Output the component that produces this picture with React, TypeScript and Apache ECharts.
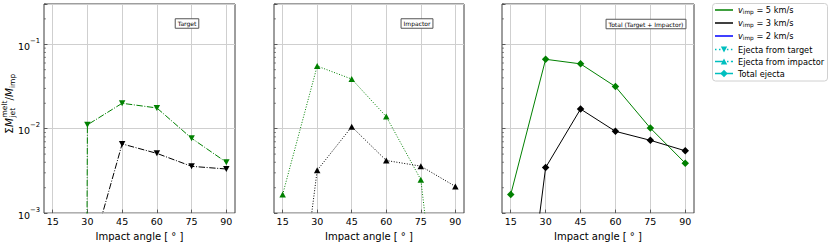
import React, { useEffect, useRef } from 'react';
import * as echarts from 'echarts';

// ---------- data ----------
const angles = [15, 30, 45, 60, 75, 90];
const xTicks = [15, 30, 45, 60, 75, 90];
const yMinorTicks = [0.002, 0.003, 0.004, 0.005, 0.006, 0.007, 0.008, 0.009, 0.02, 0.03, 0.04, 0.05, 0.06, 0.07, 0.08, 0.09, 0.2, 0.3];

// Ejecta from target (0 = no melt; clipped off the log axis)
const target5 = [0, 0.0111, 0.02, 0.0176, 0.0077, 0.004];
const target3 = [0, 0.00023, 0.0066, 0.0051, 0.00358, 0.00333];
// Ejecta from impactor
const impactor5 = [0.00166, 0.0552, 0.0387, 0.0139, 0.00249, 8e-7];
const impactor3 = [2e-6, 0.00321, 0.01054, 0.0042, 0.0036, 0.00207];
// Total ejecta
const total5 = [0.00166, 0.0664, 0.0586, 0.0315, 0.01016, 0.0039];
const total3 = [2e-6, 0.00346, 0.0171, 0.0093, 0.00728, 0.00547];

const panelTitles = ['Target', 'Impactor', 'Total (Target + Impactor)'];
const xLabel = 'Impact angle [ ° ]';
const legendVel = ['5', '3', '2'];
const legendEjecta = ['Ejecta from target', 'Ejecta from impactor', 'Total ejecta'];

// ---------- style ----------
const X_MIN = 11.25;
const X_MAX = 93.75;
const Y_MIN = 0.001;
const Y_MAX = 0.3;
const FONT = '"DejaVu Sans", sans-serif';
const GREEN = '#008000';
const BLACK = '#000000';
const BLUE = '#0000ff';
const CYAN = '#00bfbf';
const FRAME = '#3c3c3c';
const GRIDC = '#cfcfcf';
const DASHDOT = [6.4, 1.6, 1, 1.6];
const DOTTED = [1, 1.65];

const grids = [
  { left: 44, top: 4, width: 191, height: 214 },
  { left: 274, top: 4, width: 190, height: 214 },
  { left: 502, top: 4, width: 192, height: 214 },
];

function measure(text: string, size: number, italic = false) {
  const c = document.createElement('canvas').getContext('2d');
  if (!c) return text.length * size * 0.6;
  c.font = `${italic ? 'italic ' : ''}${size}px "DejaVu Sans"`;
  return c.measureText(text).width;
}

function txt(text: string, x: number, y: number, size: number, opts: any = {}) {
  return {
    type: 'text',
    silent: true,
    z: 100,
    style: {
      text,
      x,
      y,
      fill: opts.fill || '#000',
      fontSize: size,
      fontFamily: FONT,
      fontStyle: opts.italic ? 'italic' : 'normal',
      align: opts.align || 'left',
      verticalAlign: 'middle',
      textAlign: opts.align || 'left',
      textVerticalAlign: 'middle',
    },
  };
}

function toLog(v: number) {
  // zero values cannot be drawn on a log axis; they fall far below the axis and are clipped
  return v > 0 ? v : 1e-100;
}

function buildOption() {
  const panels = [
    { s5: target5, s3: target3, type: DASHDOT, symbol: 'triangle', rot: 180, size: [6.5, 6] },
    { s5: impactor5, s3: impactor3, type: DOTTED, symbol: 'triangle', rot: 0, size: [6.5, 6] },
    { s5: total5, s3: total3, type: 'solid', symbol: 'diamond', rot: 0, size: [7.5, 7.5] },
  ];

  const xAxis = grids.map((_, i) => ({
    gridIndex: i,
    type: 'value',
    min: X_MIN,
    max: X_MAX,
    name: xLabel,
    nameLocation: 'middle',
    nameGap: 13,
    nameTextStyle: { fontSize: 10, fontFamily: FONT, color: '#000', verticalAlign: 'top' },
    axisLine: { show: false },
    axisTick: { show: true, inside: true, length: 3.5, customValues: xTicks, lineStyle: { color: FRAME, width: 0.8 } },
    axisLabel: { customValues: xTicks, fontSize: 9.5, fontFamily: FONT, color: '#000', margin: 3 },
    splitLine: { show: true, lineStyle: { color: GRIDC, width: 1 } },
  }));

  const yAxis = grids.map((_, i) => ({
    gridIndex: i,
    type: 'log',
    logBase: 10,
    min: Y_MIN,
    max: Y_MAX,
    axisLine: { show: false },
    axisTick: { show: true, inside: true, length: 3.5, lineStyle: { color: FRAME, width: 0.8 } },
    axisLabel: {
      show: i === 0,
      margin: 4,
      formatter: (v: number) => {
        const l = Math.log10(v);
        const e = Math.round(l);
        if (Math.abs(l - e) > 1e-6) return '';
        return `{b|10}{p|−${-e}}`;
      },
      rich: {
        b: { fontSize: 9.5, fontFamily: FONT, color: '#000', lineHeight: 14, verticalAlign: 'bottom' },
        p: { fontSize: 6.8, fontFamily: FONT, color: '#000', lineHeight: 8, verticalAlign: 'top' },
      },
    },
    splitLine: { show: true, lineStyle: { color: GRIDC, width: 1 } },
  }));

  const series: any[] = [];
  panels.forEach((p, i) => {
    [
      { vals: p.s5, color: GREEN },
      { vals: p.s3, color: BLACK },
    ].forEach((s) => {
      series.push({
        type: 'line',
        xAxisIndex: i,
        yAxisIndex: i,
        data: angles.map((a, k) => [a, toLog(s.vals[k])]),
        symbol: p.symbol,
        symbolRotate: p.rot,
        symbolSize: p.size,
        showSymbol: true,
        clip: true,
        lineStyle: { color: s.color, width: 1, type: p.type },
        itemStyle: { color: s.color, borderWidth: 0 },
        silent: true,
      });
    });
    series.push({
      type: 'custom',
      xAxisIndex: i,
      yAxisIndex: i,
      silent: true,
      data: yMinorTicks.map((v) => [X_MIN, v]),
      renderItem: (params: any, api: any) => {
        const pt = api.coord([api.value(0), api.value(1)]);
        return {
          type: 'line',
          shape: { x1: pt[0], y1: pt[1], x2: pt[0] + 2, y2: pt[1] },
          style: { stroke: FRAME, lineWidth: 0.6 },
        };
      },
    });
  });

  const graphic: any[] = [];

  // panel titles (boxed)
  const titlePos = [
    [187, 23.5],
    [417, 23.5],
    [646, 24],
  ];
  panelTitles.forEach((t, i) => {
    const w = measure(t, 6) + 5;
    const h = 9.5;
    graphic.push({
      type: 'rect',
      silent: true,
      z: 100,
      shape: { x: titlePos[i][0] - w / 2, y: titlePos[i][1] - h / 2, width: w, height: h },
      style: { fill: '#ffffff', stroke: '#555555', lineWidth: 1 },
    });
    graphic.push({ ...txt(t, titlePos[i][0], titlePos[i][1] + 0.3, 6, { align: 'center' }), z: 101 });
  });

  // y axis label (rotated)
  const big = 10.5;
  const small = 7.5;
  const wS = measure('Σ', big);
  const wM = measure('M', big, true);
  const wSS = Math.max(measure('melt', small), measure('jet', small));
  const wSl = measure('/', big);
  const wImp = measure('imp', small);
  const tot = wS + wM + wSS + wSl + wM + wImp;
  let cx = -tot / 2;
  const yl: any[] = [];
  yl.push(txt('Σ', cx, 0, big)); cx += wS;
  yl.push(txt('M', cx, 0, big, { italic: true })); cx += wM + 0.5;
  yl.push(txt('melt', cx, -4.5, small));
  yl.push(txt('jet', cx, 3.5, small)); cx += wSS;
  yl.push(txt('/', cx, 0, big)); cx += wSl;
  yl.push(txt('M', cx, 0, big, { italic: true })); cx += wM;
  yl.push(txt('imp', cx, 3.5, small));
  graphic.push({ type: 'group', x: 9, y: 104, rotation: Math.PI / 2, children: yl });

  // legend
  const lx = 712.5, ly = 3.5, lw = 115, lh = 77.5;
  const lg: any[] = [];
  lg.push({
    type: 'rect',
    silent: true,
    z: 100,
    shape: { x: lx, y: ly, width: lw, height: lh, r: 3 },
    style: { fill: '#fff', stroke: '#d0d0d0', lineWidth: 1 },
  });
  const hx1 = 715, hx2 = 733, hm = 724, tx = 738;
  const rows = [10, 23, 36, 49.5, 61.5, 73.5];
  const fs = 8.2;
  const velColors = [GREEN, BLACK, BLUE];
  legendVel.forEach((v, i) => {
    const y = rows[i];
    lg.push({ type: 'line', silent: true, z: 101, shape: { x1: hx1, y1: y, x2: hx2, y2: y }, style: { stroke: velColors[i], lineWidth: 1.5 } });
    let x = tx;
    lg.push(txt('v', x, y - 0.5, fs, { italic: true }));
    x += measure('v', fs, true);
    lg.push(txt('imp', x, y + 1.8, 5.8));
    x += measure('imp', 5.8);
    lg.push(txt(` = ${v} km/s`, x, y - 0.5, fs));
  });
  const ejStyles: any[] = [DOTTED.map((d) => d * 1.5), DASHDOT.map((d) => d * 1.5), null];
  legendEjecta.forEach((t, i) => {
    const y = rows[3 + i];
    lg.push({
      type: 'line',
      silent: true,
      z: 101,
      shape: { x1: hx1, y1: y, x2: hx2, y2: y },
      style: { stroke: CYAN, lineWidth: 1.5, lineDash: ejStyles[i] },
    });
    let pts: number[][];
    if (i === 0) pts = [[hm - 3.2, y - 3], [hm + 3.2, y - 3], [hm, y + 3]];
    else if (i === 1) pts = [[hm - 3.2, y + 3], [hm + 3.2, y + 3], [hm, y - 3]];
    else pts = [[hm - 3.7, y], [hm, y - 3.7], [hm + 3.7, y], [hm, y + 3.7]];
    lg.push({ type: 'polygon', silent: true, z: 102, shape: { points: pts }, style: { fill: CYAN } });
    lg.push(txt(t, tx, y, fs));
  });
  graphic.push({ type: 'group', children: lg });

  return {
    animation: false,
    backgroundColor: '#ffffff',
    textStyle: { fontFamily: FONT },
    grid: grids.map((g) => ({ ...g, show: true, borderColor: FRAME, borderWidth: 1, backgroundColor: 'transparent', containLabel: false })),
    xAxis,
    yAxis,
    series,
    graphic,
  };
}

export default function App() {
  const ref = useRef<HTMLDivElement>(null);
  useEffect(() => {
    if (!ref.current) return;
    const chart = echarts.init(ref.current, undefined, { renderer: 'svg' });
    chart.setOption(buildOption() as any);
    return () => chart.dispose();
  }, []);
  return (
    <div
      ref={ref}
      style={{ position: 'fixed', left: 0, top: 0, width: 830, height: 246, background: '#fff' }}
    />
  );
}
